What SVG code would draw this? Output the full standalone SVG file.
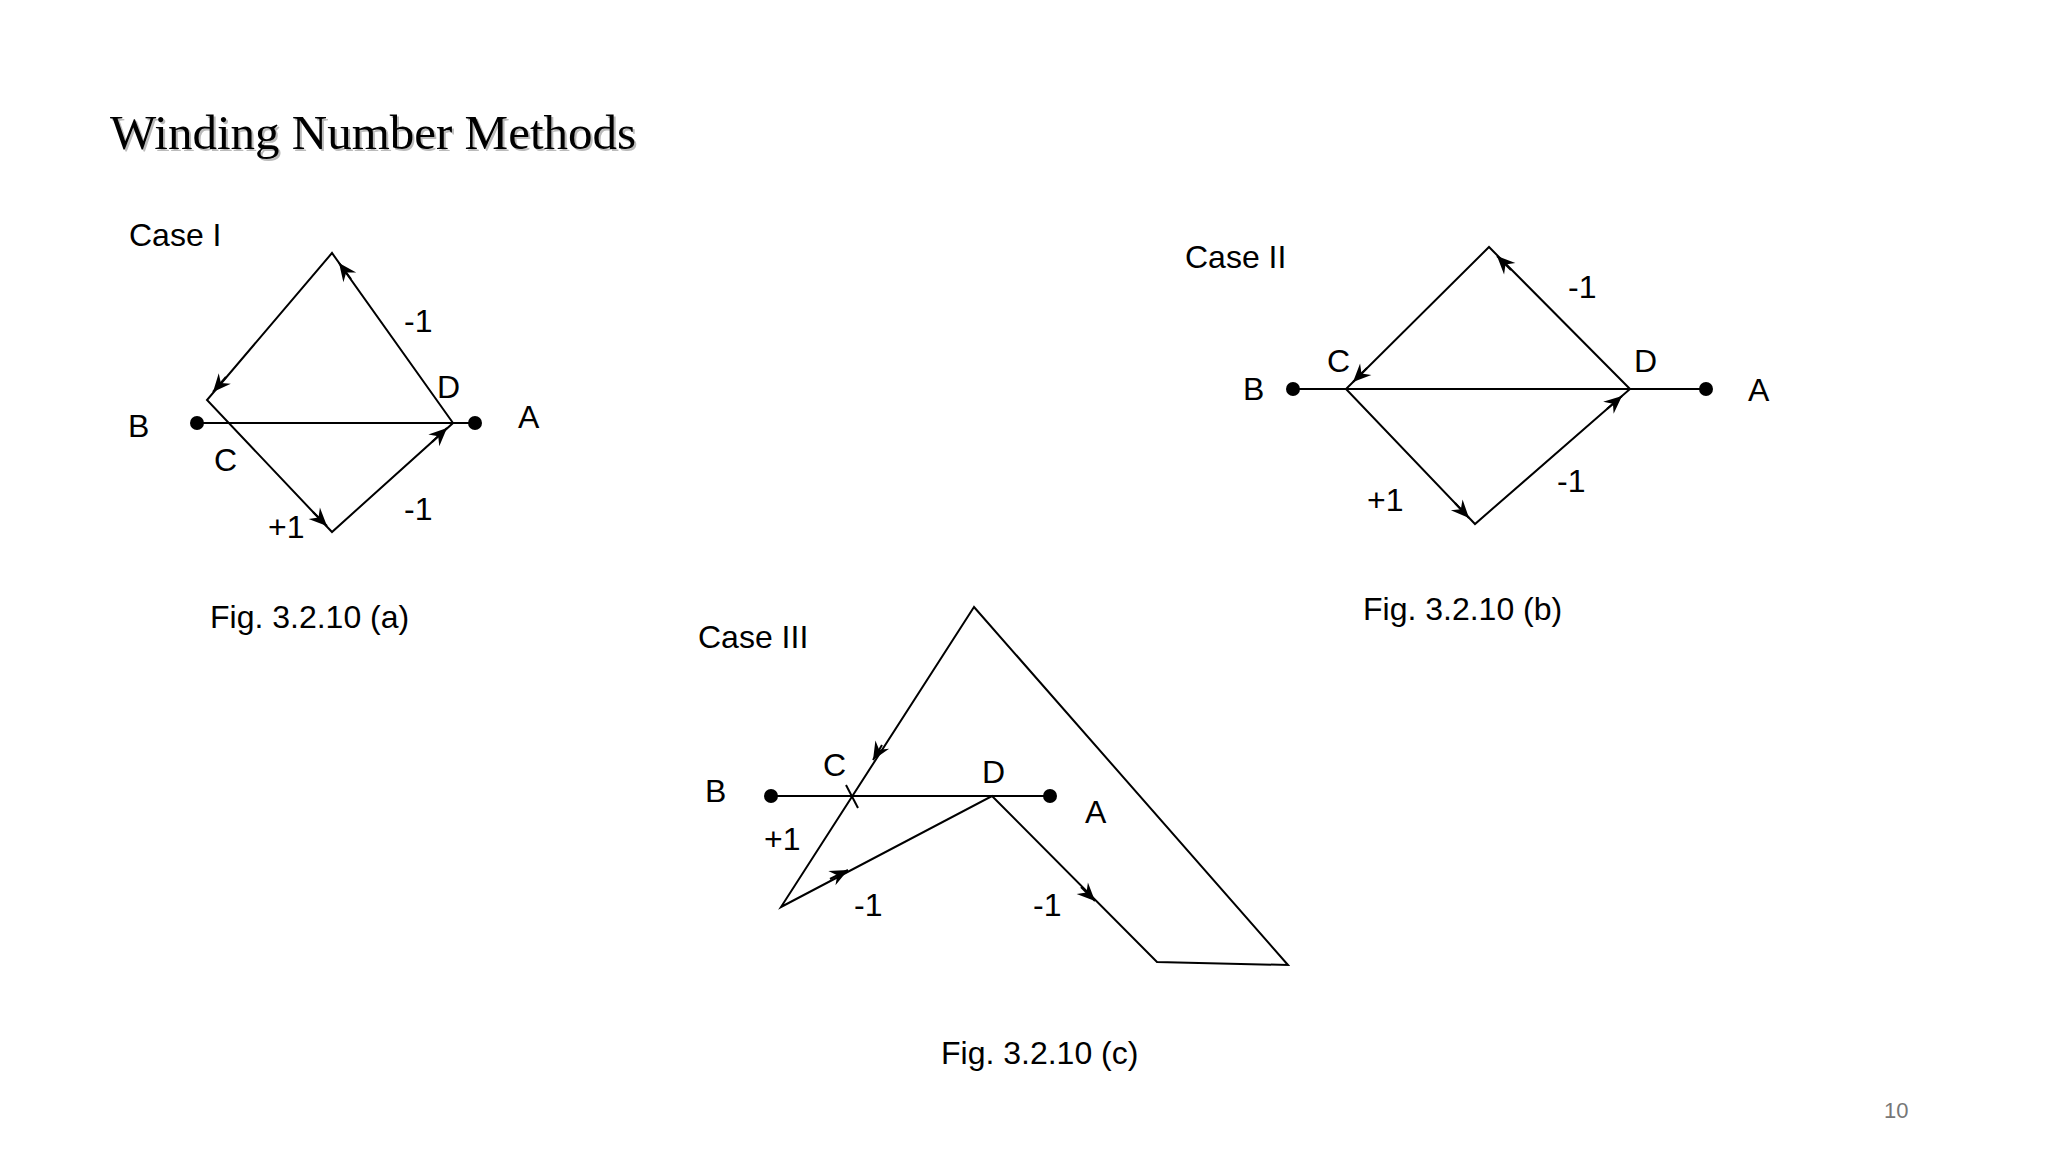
<svg xmlns="http://www.w3.org/2000/svg" width="2048" height="1152" viewBox="0 0 2048 1152">
<style>
.t{font-family:"Liberation Sans",Arial,sans-serif;font-size:32px;fill:#000}
.e{stroke:#000;stroke-width:2;fill:none}
.a{stroke:#000;stroke-width:2;fill:none;marker-end:url(#ah)}
.ttl{font-family:"Liberation Serif","Times New Roman",serif;font-size:49px}
</style>
<defs>
<marker id="ah" markerUnits="userSpaceOnUse" viewBox="-20 -10 22 20" refX="0" refY="0" markerWidth="22" markerHeight="20" orient="auto">
<path d="M0,0 L-18,-8 L-12,0 L-18,8 z" fill="#000"/>
</marker>
</defs>
<rect width="2048" height="1152" fill="#fff"/>
<g id="title">
<text class="ttl" x="112" y="151" fill="#bbb">Winding Number Methods</text>
<text class="ttl" x="110" y="149" fill="#000">Winding Number Methods</text>
</g>
<g id="caseI">
<text class="t" x="129" y="246">Case I</text>
<polygon class="e" points="453,423 332,253 207,400 332,532"/>
<line class="e" x1="197" y1="423" x2="475" y2="423"/>
<circle cx="197" cy="423" r="7"/><circle cx="475" cy="423" r="7"/>
<text class="t" x="404" y="332">-1</text>
<text class="t" x="437" y="398">D</text>
<text class="t" x="128" y="437">B</text>
<text class="t" x="518" y="428">A</text>
<text class="t" x="214" y="471">C</text>
<text class="t" x="268" y="538">+1</text>
<text class="t" x="404" y="520">-1</text>
<text class="t" x="210" y="628">Fig. 3.2.10 (a)</text>
</g>
<g id="caseII">
<text class="t" x="1185" y="268">Case II</text>
<polygon class="e" points="1630,389 1489,247 1346,389 1475,524"/>
<line class="e" x1="1293" y1="389" x2="1706" y2="389"/>
<circle cx="1293" cy="389" r="7"/><circle cx="1706" cy="389" r="7"/>
<text class="t" x="1568" y="298">-1</text>
<text class="t" x="1327" y="372">C</text>
<text class="t" x="1634" y="372">D</text>
<text class="t" x="1243" y="400">B</text>
<text class="t" x="1748" y="401">A</text>
<text class="t" x="1367" y="511">+1</text>
<text class="t" x="1557" y="492">-1</text>
<text class="t" x="1363" y="620">Fig. 3.2.10 (b)</text>
</g>
<g id="caseIII">
<text class="t" x="698" y="648">Case III</text>
<polygon class="e" points="974,607 781,907 992,796 1157,962 1288,965"/>
<line class="e" x1="771" y1="796" x2="1050" y2="796"/>
<line class="e" x1="846" y1="785" x2="858" y2="808"/>
<circle cx="771" cy="796" r="7"/><circle cx="1050" cy="796" r="7"/>
<text class="t" x="823" y="776">C</text>
<text class="t" x="982" y="783">D</text>
<text class="t" x="705" y="802">B</text>
<text class="t" x="1085" y="823">A</text>
<text class="t" x="764" y="850">+1</text>
<text class="t" x="854" y="916">-1</text>
<text class="t" x="1033" y="916">-1</text>
<text class="t" x="941" y="1064">Fig. 3.2.10 (c)</text>
</g>
<g id="connectors">
<line class="a" x1="351" y1="279" x2="339" y2="263"/>
<line class="a" x1="226" y1="377" x2="213" y2="392"/>
<line class="a" x1="313" y1="512" x2="327" y2="526"/>
<line class="a" x1="432" y1="442" x2="447" y2="428"/>
<line class="a" x1="1511" y1="270" x2="1497" y2="256"/>
<line class="a" x1="1367" y1="368" x2="1353" y2="382"/>
<line class="a" x1="1455" y1="503" x2="1469" y2="518"/>
<line class="a" x1="1607" y1="409" x2="1622" y2="396"/>
<line class="a" x1="882" y1="745" x2="873" y2="760"/>
<line class="a" x1="830" y1="879" x2="848" y2="870"/>
<line class="a" x1="1081" y1="887" x2="1095" y2="901"/>
</g>
<text x="1884" y="1118" font-family="Liberation Sans,Arial,sans-serif" font-size="22" fill="#777">10</text>
</svg>
